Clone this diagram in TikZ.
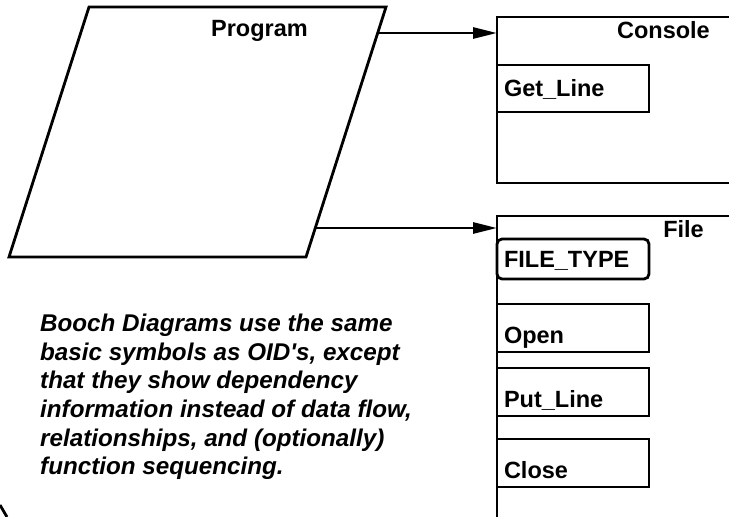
\documentclass[tikz,border=0pt]{standalone}
\usepackage{fontspec}
\setmainfont{Liberation Sans}
\usetikzlibrary{arrows.meta,positioning}

\tikzset{
  lbl/.style={font=\bfseries\fontsize{23.5}{28.6}\selectfont},
  box/.style={draw, line width=2.8pt, anchor=north west, outer sep=0pt, inner sep=0pt},
  opbox/.style={box, lbl, minimum width=152pt, minimum height=48pt, text width=138pt,
    inner xsep=7pt, align=left, text height=30pt, text depth=0pt},
  dep/.style={line width=2.8pt, -{Triangle[length=24pt, width=11pt]}}
}

\begin{document}
\begin{tikzpicture}[x=1pt, y=-1pt]
        \useasboundingbox (0,0) rectangle (729,517);
        \clip (0,0) rectangle (729,517);

        % Program (parallelogram)
        \coordinate (PTL) at (89,7);
        \coordinate (PTR) at (386,7);
        \coordinate (PBR) at (306,257);
        \coordinate (PBL) at (9,257);
        \draw[line width=2.8pt, line join=miter] (PTL) -- (PTR) -- (PBR) -- (PBL) -- cycle;
        \node at (259.5,30.5) (prog) [lbl] {Program};

        % Console package
        \node at (497,17) (console) [box, minimum width=300pt, minimum height=166pt] {};
        \node at (710,30) (consolename) [lbl, anchor=east, inner sep=0pt] {Console};
        \node at (497,65) (getline) [opbox, minimum height=47pt, text height=16pt] {Get\_Line};

        % File package
        \node at (497,216) (file) [box, minimum width=300pt, minimum height=400pt] {};
        \node at (704,229) (filename) [lbl, anchor=east, inner sep=0pt] {File};
        \node at (497,239) (filetype) [opbox, minimum height=40pt, text height=16pt, rounded corners=5pt] {FILE\_TYPE};
        \node at (497,304) (open) [opbox] {Open};
        \node at (497,368) (putline) [opbox] {Put\_Line};
        \node at (497,439) (close) [opbox] {Close};

        % Dependencies
        \coordinate (D1) at (378,33);
        \coordinate (D2) at (316,228);
        \draw[dep] (D1) -- (console.west |- D1);
        \draw[dep] (D2) -- (file.west |- D2);

        % Note
        \node at (40,314) (note) [lbl, font=\bfseries\itshape\fontsize{24.2}{28.6}\selectfont,
          anchor=north west, align=left, inner sep=0pt]
          {Booch Diagrams use the same\\basic symbols as OID\textquotesingle s, except\\that they show dependency\\information instead of data flow,\\relationships, and (optionally)\\function sequencing.};

        \draw[line width=2.8pt] (0,505) -- (7,517);
\end{tikzpicture}
\end{document}
